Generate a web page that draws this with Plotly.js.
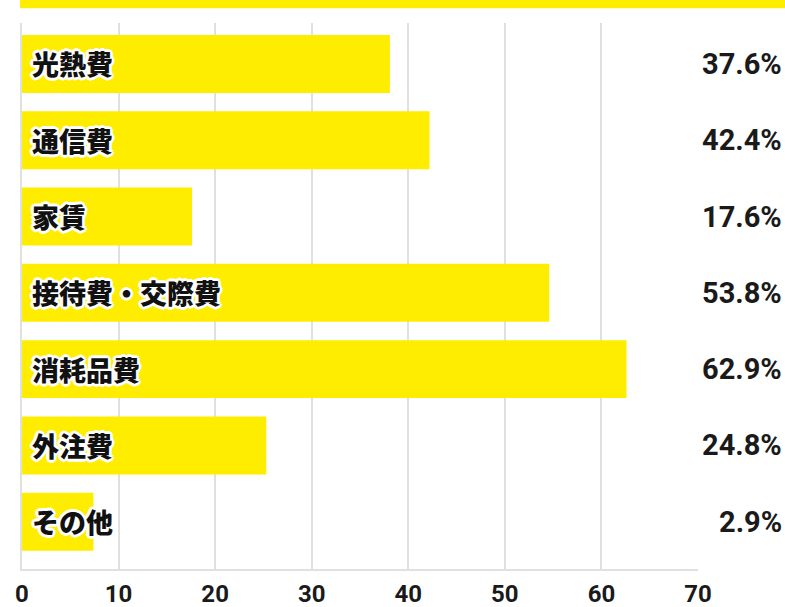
<!DOCTYPE html>
<html>
<head>
<meta charset="utf-8">
<script src="https://cdn.plot.ly/plotly-3.0.1.min.js"></script>
<style>
  html, body { margin: 0; padding: 0; background: #ffffff; }
  #chart { width: 785px; height: 607px; }
</style>
</head>
<body>
<div id="chart"></div>
<script>
// Categories (top to bottom)
const categories = ["光熱費", "通信費", "家賃", "接待費・交際費", "消耗品費", "外注費", "その他"];
// Bar lengths as drawn in the picture (axis units)
const barValues = [38.1, 42.2, 17.6, 54.6, 62.6, 25.3, 7.4];
// Value labels printed at the right
const valueLabels = ["37.6%", "42.4%", "17.6%", "53.8%", "62.9%", "24.8%", "2.9%"];
// X axis ticks
const tickValues = [0, 10, 20, 30, 40, 50, 60, 70];
const tickLabels = ["0", "10", "20", "30", "40", "50", "60", "70"];

const YELLOW = "#FFED00";
const GRID = "rgba(0,0,0,0.12)";
const NARROW = "Roboto, 'Liberation Sans', sans-serif";
const CJK = "'Noto Sans CJK JP', 'Noto Sans CJK SC', sans-serif";
const o = 3;
const outline = [
  `${o}px 0 0 #fff`, `-${o}px 0 0 #fff`, `0 ${o}px 0 #fff`, `0 -${o}px 0 #fff`,
  `2px 2px 0 #fff`, `-2px -2px 0 #fff`, `2px -2px 0 #fff`, `-2px 2px 0 #fff`,
  `0 0 3px #fff`
].join(", ");

const trace = {
  type: "bar",
  orientation: "h",
  x: barValues,
  y: categories,
  width: 0.76,
  marker: { color: YELLOW, line: { width: 0 } },
  hoverinfo: "skip"
};

const annotations = [];
categories.forEach((c, i) => {
  annotations.push({
    xref: "x", yref: "y", x: 0, y: c,
    xanchor: "left", yanchor: "middle", xshift: 8,
    text: c, showarrow: false,
    font: { family: CJK, size: 27, color: "#111", weight: 900, shadow: outline }
  });
  annotations.push({
    xref: "paper", yref: "y", x: 1.1265, y: c,
    xanchor: "right", yanchor: "middle",
    text: valueLabels[i], showarrow: false,
    font: { family: NARROW, size: 29, color: "#1a1a1a", weight: 700 }
  });
});

const layout = {
  width: 785, height: 607,
  margin: { l: 22, r: 87, t: 23, b: 38, pad: 0 },
  paper_bgcolor: "#ffffff", plot_bgcolor: "#ffffff",
  showlegend: false,
  xaxis: {
    range: [0, 70],
    tickvals: tickValues, ticktext: tickLabels,
    showgrid: true, gridcolor: GRID, gridwidth: 2,
    zeroline: false,
    showline: true, linecolor: GRID, linewidth: 2, mirror: false,
    layer: "above traces",
    ticks: "", ticklabelstandoff: 2,
    tickfont: { family: NARROW, size: 24, color: "#1a1a1a", weight: 700 },
    fixedrange: true
  },
  yaxis: {
    type: "category",
    categoryorder: "array", categoryarray: categories,
    range: [6.62, -0.537],
    showticklabels: false, showgrid: false, zeroline: false,
    showline: true, linecolor: GRID, linewidth: 2,
    layer: "above traces",
    ticks: "",
    fixedrange: true
  },
  shapes: [{
    type: "rect", xref: "paper", yref: "paper",
    x0: -0.003, x1: 1.13, y0: 1.027, y1: 1.05,
    fillcolor: YELLOW, line: { width: 0 }, layer: "above"
  }],
  annotations: annotations,
  bargap: 0.24
};

Plotly.newPlot("chart", [trace], layout, { displayModeBar: false, staticPlot: true });
</script>
</body>
</html>
